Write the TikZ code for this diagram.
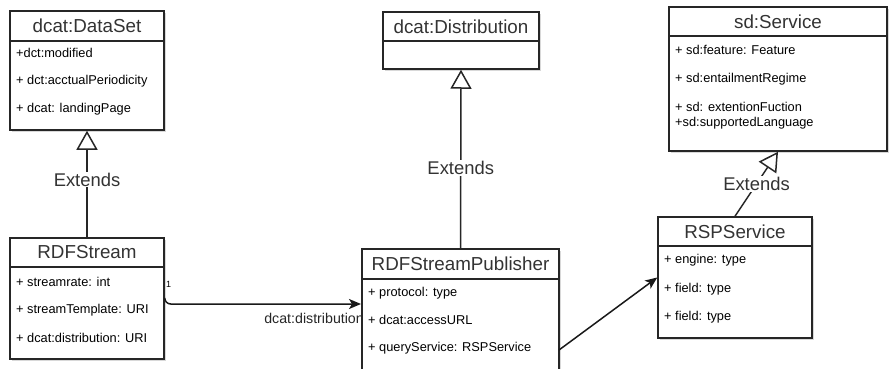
\documentclass[tikz,border=0pt]{standalone}
\usepackage{fontspec}
\setmainfont{Liberation Sans}
\usetikzlibrary{shadows,arrows.meta}
\newcommand\ttlfont{\fontsize{18.8}{20}\selectfont}
\newcommand\attrfont{\fontsize{12.8}{14}\selectfont}
\newcommand\extfont{\fontsize{18.4}{20}\selectfont}
\begin{document}
\begin{tikzpicture}[x=1pt,y=-1pt,
  cls/.style={draw=black!85, line width=1.5pt, fill=white, inner sep=0pt,
    drop shadow={shadow xshift=2pt, shadow yshift=-2pt, opacity=0.3}},
  ttl/.style={draw=black!85, line width=1.5pt, inner sep=0pt, font=\ttlfont, text=black!80, anchor=north},
  attr/.style={anchor=west, inner sep=0pt, font=\attrfont},
  ext/.style={line width=1.5pt, black!85, -{Triangle[width=21pt, length=19pt, fill=white]}},
  assoc/.style={line width=1.5pt, black!90, -{Stealth[width=10pt, length=12pt, inset=3pt]}},
  lbl/.style={fill=white, inner sep=1pt, font=\extfont, text=black!80}]
\clip (0,0) rectangle (889,369);
\fill[white] (0,0) rectangle (889,369);

% dcat:DataSet
\node[cls, minimum width=154, minimum height=119] (ds) at (87,70.5) {};
\node[ttl, minimum width=154, minimum height=30] (dsT) at (ds.north) {dcat:DataSet};
\node[attr] (ds1) at (16,53) {+dct:modified};
\node[attr] (ds2) at (16,81) {+ dct:acctualPeriodicity};
\node[attr] (ds3) at (16,109) {+ dcat: landingPage};

% dcat:Distribution
\node[cls, minimum width=156, minimum height=57] (dd) at (461,40.5) {};
\node[ttl, minimum width=156, minimum height=29] (ddT) at (dd.north) {dcat:Distribution};

% sd:Service
\node[cls, minimum width=218, minimum height=144] (sv) at (778,79) {};
\node[ttl, minimum width=218, minimum height=29] (svT) at (sv.north) {sd:Service};
\node[attr] (sv1) at (675,50) {+ sd:feature: Feature};
\node[attr] (sv2) at (675,79) {+ sd:entailmentRegime};
\node[attr] (sv3) at (675,107) {+ sd: extentionFuction};
\node[attr] (sv4) at (675,123) {+sd:supportedLanguage};

% RDFStream
\node[cls, minimum width=154, minimum height=121] (rs) at (87,298.5) {};
\node[ttl, minimum width=154, minimum height=29] (rsT) at (rs.north) {RDFStream};
\node[attr] (rs1) at (16,282) {+ streamrate: int};
\node[attr] (rs2) at (16,310) {+ streamTemplate: URI};
\node[attr] (rs3) at (16,338) {+ dcat:distribution: URI};

% RDFStreamPublisher
\node[cls, minimum width=197, minimum height=140] (pub) at (460.5,319) {};
\node[ttl, minimum width=197, minimum height=30] (pubT) at (pub.north) {RDFStreamPublisher};
\node[attr] (pub1) at (368,293) {+ protocol: type};
\node[attr] (pub2) at (368,320) {+ dcat:accessURL};
\node[attr] (pub3) at (368,348) {+ queryService: RSPService};

% RSPService
\node[cls, minimum width=154, minimum height=121] (rsp) at (735,277.5) {};
\node[ttl, minimum width=154, minimum height=29] (rspT) at (rsp.north) {RSPService};
\node[attr] (rsp1) at (664,260) {+ engine: type};
\node[attr] (rsp2) at (664,289) {+ field: type};
\node[attr] (rsp3) at (664,317) {+ field: type};

% connectors
\draw[ext] (rsT.north) -- node[lbl, pos=0.54] (e1) {Extends} (ds.south);
\draw[ext] (pubT.north) -- node[lbl, pos=0.45] (e2) {Extends} (dd.south);
\draw[ext] (rspT.north) -- node[lbl, pos=0.5] (e3) {Extends} (sv.south);

\coordinate (pubIn) at (361,304);
\draw[assoc, rounded corners=6pt] (rs.east) |- (pubIn);
\node[anchor=west, inner sep=0pt, font=\fontsize{9}{10}\selectfont] (one) at (166,284) {1};
\node[anchor=east, inner sep=0pt, font=\fontsize{14.2}{16}\selectfont, text=black!85] (dist) at (364,318) {dcat:distribution};

\coordinate (pubOut) at (559,350);
\draw[assoc] (pubOut) -- (rsp.west);
\end{tikzpicture}
\end{document}
